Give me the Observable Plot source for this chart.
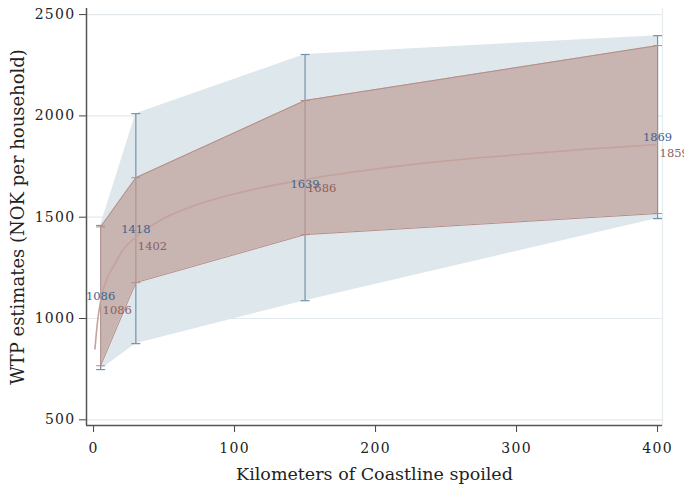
<!DOCTYPE html>
<html>
<head>
<meta charset="utf-8">
<script src="https://cdn.jsdelivr.net/npm/d3@7"></script>
<script src="https://cdn.jsdelivr.net/npm/@observablehq/plot@0.6"></script>
<style>
  html, body { margin: 0; padding: 0; background: #fff; }
  g[aria-label="y-axis tick label"] text, g[aria-label="x-axis tick label"] text { letter-spacing: 1.3px; }
</style>
</head>
<body>
<div id="chart"></div>
<script>
// ---- data ----
const km = [5, 30, 150, 400];
const blueEst = [1086, 1418, 1639, 1869];
const blueLo = [748, 876, 1088, 1493];
const blueHi = [1459, 2011, 2303, 2396];
const redEst = [1086, 1402, 1686, 1859];
const redLo = [767, 1177, 1414, 1518];
const redHi = [1452, 1695, 2076, 2347];
const curveKm = [1, 2, 3, 5, 10, 14, 20, 30, 50, 75, 100, 150, 200, 250, 300, 350, 400];
const curveWtp = [850, 928, 995, 1086, 1205, 1255, 1330, 1402, 1495, 1565, 1615, 1686, 1738, 1778, 1808, 1836, 1859];
const xTicks = [0, 100, 200, 300, 400];
const yTicks = [500, 1000, 1500, 2000, 2500];
const xTitle = "Kilometers of Coastline spoiled";
const yTitle = "WTP estimates (NOK per household)";

const blue = km.map((k, i) => ({km: k, est: blueEst[i], lo: blueLo[i], hi: blueHi[i]}));
const red = km.map((k, i) => ({km: k, est: redEst[i], lo: redLo[i], hi: redHi[i]}));
const curve = curveKm.map((k, i) => ({km: k, wtp: curveWtp[i]}));

const cap = {draw(ctx) { ctx.moveTo(-4.5, 0); ctx.lineTo(4.5, 0); }};
const font = "DejaVu Serif";

const chart = Plot.plot({
  width: 684,
  height: 489,
  marginLeft: 86,
  marginRight: 22,
  marginTop: 8,
  marginBottom: 64,
  style: {fontFamily: font, background: "#fff", overflow: "visible"},
  x: {domain: [-5, 403.5]},
  y: {domain: [472, 2530]},
  marks: [
    Plot.gridY(yTicks, {stroke: "#e2eaee", strokeOpacity: 1, strokeWidth: 1.2}),
    Plot.frame({anchor: "right", stroke: "#e5ecef", strokeWidth: 1.2}),
    // blue CI band and error bars
    Plot.areaY(blue, {x: "km", y1: "lo", y2: "hi", fill: "#dde7ec"}),
    Plot.ruleX(blue, {x: "km", y1: "lo", y2: "hi", stroke: "#7392ac", strokeWidth: 1.2}),
    Plot.dot(blue, {x: "km", y: "lo", symbol: cap, r: 4, stroke: "#7392ac", strokeWidth: 1.2}),
    Plot.dot(blue, {x: "km", y: "hi", symbol: cap, r: 4, stroke: "#7392ac", strokeWidth: 1.2}),
    // red CI band
    Plot.areaY(red, {x: "km", y1: "lo", y2: "hi", fill: "#c3a7a2", fillOpacity: 0.8}),
    Plot.line(red, {x: "km", y: "hi", stroke: "#b68c86", strokeWidth: 1}),
    Plot.line(red, {x: "km", y: "lo", stroke: "#b68c86", strokeWidth: 1}),
    Plot.ruleX(red, {x: "km", y1: "lo", y2: "hi", stroke: "#b68c86", strokeWidth: 1, strokeOpacity: 0.6}),
    Plot.dot(red, {x: "km", y: "lo", symbol: cap, r: 4, stroke: "#b68c86", strokeWidth: 1}),
    Plot.dot(red, {x: "km", y: "hi", symbol: cap, r: 4, stroke: "#b68c86", strokeWidth: 1}),
    // fitted curve
    Plot.line(curve, {x: "km", y: "wtp", curve: "monotone-x", stroke: "#c5a29c", strokeWidth: 1.6}),
    // labels
    Plot.text(blue, {x: "km", y: "est", text: d => String(d.est), dy: -5, fill: "#3d6390", fontSize: 11.5, textAnchor: "middle"}),
    Plot.text(red, {x: "km", y: "est", text: d => String(d.est), dx: 2, dy: 9, fill: "#8e605a", fontSize: 11.5, textAnchor: "start"}),
    // axes
    Plot.axisY({ticks: yTicks, tickFormat: d => String(d), tickSize: 7, tickPadding: 4, fontSize: 14, label: null, stroke: "#444", color: "#222"}),
    Plot.axisX({ticks: xTicks, tickFormat: d => String(d), tickSize: 7, tickPadding: 11, fontSize: 14, label: null, stroke: "#444", color: "#222"}),
    Plot.ruleX([-5], {stroke: "#555", strokeWidth: 1.5}),
    Plot.ruleY([472], {stroke: "#555", strokeWidth: 1.5}),
    Plot.text([xTitle], {frameAnchor: "bottom", dy: 54, fontSize: 17.5, fill: "#222", fontFamily: font}),
    Plot.text([yTitle], {frameAnchor: "left", dx: -68, rotate: -90, textAnchor: "middle", fontSize: 18, fill: "#222", fontFamily: font})
  ]
});
document.getElementById("chart").appendChild(chart);
</script>
</body>
</html>
